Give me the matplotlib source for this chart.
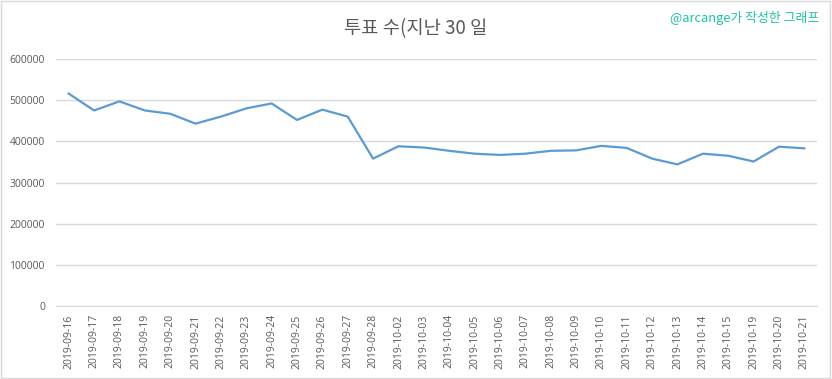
import matplotlib.pyplot as plt
from matplotlib.patches import Rectangle

# Datos
fechas = ['2019-09-16', '2019-09-17', '2019-09-18', '2019-09-19', '2019-09-20',
          '2019-09-21', '2019-09-22', '2019-09-23', '2019-09-24', '2019-09-25',
          '2019-09-26', '2019-09-27', '2019-09-28', '2019-10-02', '2019-10-03',
          '2019-10-04', '2019-10-05', '2019-10-06', '2019-10-07', '2019-10-08',
          '2019-10-09', '2019-10-10', '2019-10-11', '2019-10-12', '2019-10-13',
          '2019-10-14', '2019-10-15', '2019-10-19', '2019-10-20', '2019-10-21']
votos = [516000, 475000, 497000, 475000, 467000, 443000, 460000, 480000, 492000, 452000,
         477000, 460000, 358000, 388000, 385000, 377000, 370000, 367000, 370000, 377000,
         378000, 389000, 384000, 358000, 344000, 370000, 365000, 351000, 387000, 383000]
yticks = [0, 100000, 200000, 300000, 400000, 500000, 600000]

plt.rcParams['font.family'] = ['Open Sans', 'Noto Sans CJK KR', 'DejaVu Sans']

fig = plt.figure(figsize=(8.32, 3.79), dpi=100)
ax = fig.add_axes([56/832, 73/379, 761/832, 247/379])

x = range(len(fechas))
ax.plot(x, votos, color='#5B9BD5', linewidth=1.6)

ax.set_xlim(-0.5, len(fechas) - 0.5)
ax.set_ylim(0, 600000)
ax.set_yticks(yticks)
ax.set_yticklabels([str(v) for v in yticks])
ax.set_xticks(list(x))
ax.set_xticklabels(fechas, rotation=90)
ax.tick_params(axis='both', length=0, colors='#595959', labelsize=7.5)
ax.tick_params(axis='y', pad=8)
ax.tick_params(axis='x', pad=6)
ax.grid(axis='y', color='#D9D9D9', linewidth=1)
ax.set_axisbelow(True)
for s in ['top', 'right', 'left']:
    ax.spines[s].set_visible(False)
ax.spines['bottom'].set_color('#D9D9D9')

fig.text(0.4995, 0.925, '투표 수(지난 30 일', ha='center', va='center',
         fontsize=13.5, color='#595959', weight='light',
         family=['Noto Sans CJK KR', 'DejaVu Sans'])
fig.text(0.985, 0.952, '@arcange가 작성한 그래프', ha='right', va='center',
         fontsize=9.3, color='#1CC4A8', family=['Noto Sans CJK KR', 'DejaVu Sans'])

fig.patches.append(Rectangle((0.001, 0.002), 0.997, 0.995, transform=fig.transFigure,
                             fill=False, edgecolor='#D9D9D9', linewidth=1))

fig.savefig('out.png', dpi=100)
